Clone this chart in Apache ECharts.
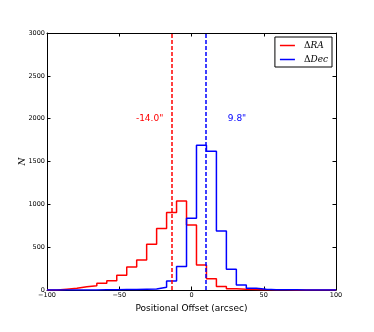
<!DOCTYPE html>
<html>
<head>
<meta charset="utf-8">
<script src="https://cdn.jsdelivr.net/npm/echarts@6/dist/echarts.min.js"></script>
<style>
  html, body { margin: 0; padding: 0; background: #fff; }
  #chart { width: 374px; height: 332px; }
</style>
</head>
<body>
<div id="chart"></div>
<script>
// histogram: 29 equal bins over [-100, 100]
const binMin = -100;
const binMax = 100;
const binCount = 29;
const raCounts = [0, 10, 20, 39, 51, 78, 109, 171, 269, 350, 534, 717, 904, 1040, 760, 292, 132, 40, 16, 8, 5, 3, 2, 2, 1, 1, 1, 1, 1];
const decCounts = [0, 0, 0, 0, 1, 2, 3, 5, 6, 10, 12, 31, 105, 273, 838, 1691, 1620, 690, 242, 58, 20, 8, 4, 3, 2, 1, 1, 1, 1];
const seriesNames = ["ΔRA", "ΔDec"];
const medianOffsets = [-14.0, 9.8];
const labelPos = [[-29, 2000], [31.5, 2000]];
const xTicks = [-100, 100, 50];
const yTicks = [0, 3000, 500];

const binWidth = (binMax - binMin) / binCount;

function stepData(counts) {
  let pts = [[binMin, 0]];
  counts.forEach((c, i) => {
    pts.push([binMin + i * binWidth, c]);
  });
  pts.push([binMax, 0]);
  return pts;
}

const chart = echarts.init(document.getElementById("chart"));
const colors = ["#ff0000", "#0000ff"];
const minus = v => String(v).replace("-", "\u2212");
const tickFont = { fontFamily: "DejaVu Sans", fontSize: 6.5, color: "#000" };

const makeSeries = (counts, i) => ({
  name: seriesNames[i],
  type: "line",
  step: "end",
  symbol: "none",
  xAxisIndex: 0,
  yAxisIndex: 0,
  lineStyle: { color: colors[i], width: 1.5 },
  itemStyle: { color: colors[i] },
  data: stepData(counts),
  markLine: {
    silent: true,
    symbol: "none",
    label: { show: false },
    lineStyle: { color: colors[i], type: [4, 2], width: 1.5 },
    data: [{ xAxis: medianOffsets[i] }]
  },
  markPoint: {
    symbol: "circle",
    symbolSize: 0,
    label: {
      show: true,
      position: "inside",
      color: colors[i],
      fontFamily: "DejaVu Sans",
      fontSize: 9,
      formatter: medianOffsets[i].toFixed(1) + '"'
    },
    data: [{ coord: labelPos[i] }]
  }
});

const axisLine = { show: true, onZero: false, lineStyle: { color: "#000" } };
const axisTick = { show: true, inside: true, length: 3.5, lineStyle: { color: "#000" } };

const option = {
  animation: false,
  grid: { left: 47, right: 38, top: 33, bottom: 42 },
  legend: {
    orient: "vertical",
    right: 42,
    top: 37,
    padding: [4, 4, 3, 5],
    itemGap: 5,
    itemWidth: 15,
    itemHeight: 1.5,
    icon: "rect",
    borderColor: "#000",
    borderWidth: 1,
    formatter: function (name) {
      return name === "ΔRA" ? "{d|Δ}{i|RA}" : "{d|Δ}{i|Dec}";
    },
    textStyle: {
      padding: [0, 0, 0, 4],
      rich: {
        d: { fontFamily: "DejaVu Serif", fontSize: 9, color: "#000", height: 10 },
        i: { fontFamily: "DejaVu Serif", fontStyle: "italic", fontSize: 9, color: "#000", height: 10 }
      }
    },
    data: seriesNames
  },
  xAxis: [
    {
      type: "value", min: xTicks[0], max: xTicks[1], interval: xTicks[2],
      name: "Positional Offset (arcsec)", nameLocation: "middle", nameGap: 13,
      nameTextStyle: { fontFamily: "DejaVu Sans", fontSize: 9, color: "#000" },
      axisLine, axisTick,
      axisLabel: Object.assign({ margin: 2, formatter: minus }, tickFont),
      splitLine: { show: false }
    },
    {
      type: "value", position: "top", min: xTicks[0], max: xTicks[1], interval: xTicks[2],
      axisLine, axisTick,
      axisLabel: { show: false },
      splitLine: { show: false }
    }
  ],
  yAxis: [
    {
      type: "value", min: yTicks[0], max: yTicks[1], interval: yTicks[2],
      name: "N", nameLocation: "middle", nameGap: 20,
      nameMoveOverlap: false,
      nameTextStyle: { fontFamily: "DejaVu Serif", fontStyle: "italic", fontSize: 9, color: "#000" },
      axisLine, axisTick,
      axisLabel: Object.assign({ margin: 2, formatter: v => String(v) }, tickFont),
      splitLine: { show: false }
    },
    {
      type: "value", position: "right", min: yTicks[0], max: yTicks[1], interval: yTicks[2],
      axisLine, axisTick,
      axisLabel: { show: false },
      splitLine: { show: false }
    }
  ],
  series: [makeSeries(raCounts, 0), makeSeries(decCounts, 1)]
};

chart.setOption(option);
</script>
</body>
</html>
